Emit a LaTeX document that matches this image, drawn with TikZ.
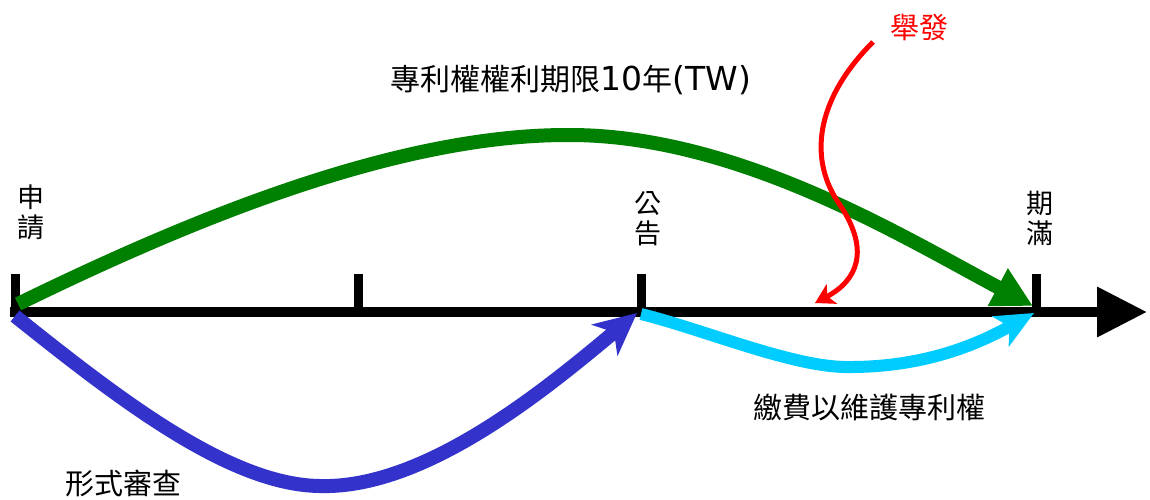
\documentclass[tikz,border=0pt]{standalone}
\usepackage{fontspec}
\setmainfont{Noto Sans CJK TC}
\newfontfamily\latinfont{DejaVu Sans}
\usetikzlibrary{arrows.meta}
\definecolor{pgreen}{RGB}{0,128,0}
\definecolor{pblue}{RGB}{51,51,204}
\definecolor{pcyan}{RGB}{0,204,255}
\definecolor{pred}{RGB}{255,0,0}
\tikzset{
  axisline/.style={line width=10pt, draw=black, -{Triangle[length=50pt,width=48pt]}},
  tickline/.style={line width=9pt, draw=black},
  ticklabel/.style={align=center, inner sep=0pt, font=\fontsize{27}{30}\selectfont},
  caption/.style={inner sep=0pt, font=\fontsize{29}{32}\selectfont},
  greenarrow/.style={line width=14pt, draw=pgreen, -{Triangle[length=40pt,width=40pt]}},
  bluearrow/.style={line width=14pt, draw=pblue, -{Stealth[length=42pt,width=40pt,inset=12pt]}},
  cyanarrow/.style={line width=12pt, draw=pcyan, -{Stealth[length=38pt,width=34pt,inset=10pt]}},
  redarrow/.style={line width=5pt, draw=pred, -{Stealth[length=19pt,width=22pt,inset=5pt]}},
}
\begin{document}
\begin{tikzpicture}[x=1pt,y=-1pt]
\useasboundingbox[fill=white] (0,0) rectangle (1150,499);
% axis
\coordinate (a0) at (10,312);
\coordinate (aend) at (1147,312);
\coordinate (t0) at (15,312);
\coordinate (t1) at (358,312);
\coordinate (t2) at (641,312);
\coordinate (t3) at (1036,312);
\coordinate (rs) at (873,42);
\coordinate (rt) at (815,303);
\draw[axisline] (a0) -- (aend);
\foreach \t in {t0,t1,t2,t3} \draw[tickline] (\t) -- ++(0,-38);
% labels
\node[ticklabel] (l0) at (31,212) {申\\請};
\node[ticklabel] (l2) at (648,219) {公\\告};
\node[ticklabel] (l3) at (1040,218) {期\\滿};
\node[caption, font=\fontsize{30}{32}\selectfont] (title) at (571,80) {專利權權利期限{\latinfont\fontsize{33}{34}\selectfont 10}年{\latinfont\fontsize{33}{34}\selectfont (TW)}};
\node[caption, text=pred] (jufa) at (919,27) {舉發};
\node[caption] (fee) at (869,407) {繳費以維護專利權};
\node[caption] (exam) at (123,483) {形式審查};
% curves
\draw[greenarrow] ([shift={(3,-8)}]t0) .. controls (200,215) and (400,135) .. (567,135) .. controls (735,134) and (900,235) .. ([shift={(-3,-6)}]t3);
\draw[bluearrow] ([shift={(0,4)}]t0) .. controls (120,400) and (230,485) .. (320,486) .. controls (425,489) and (545,390) .. ([shift={(-4,1)}]t2);
\draw[cyanarrow] ([shift={(0,2)}]t2) .. controls (705,330) and (790,366) .. (845,367) .. controls (930,368) and (985,340) .. ([shift={(-2,1)}]t3);
\draw[redarrow] (rs) .. controls (815,100) and (808,160) .. (840,205) .. controls (870,250) and (858,280) .. (rt);
\end{tikzpicture}
\end{document}
